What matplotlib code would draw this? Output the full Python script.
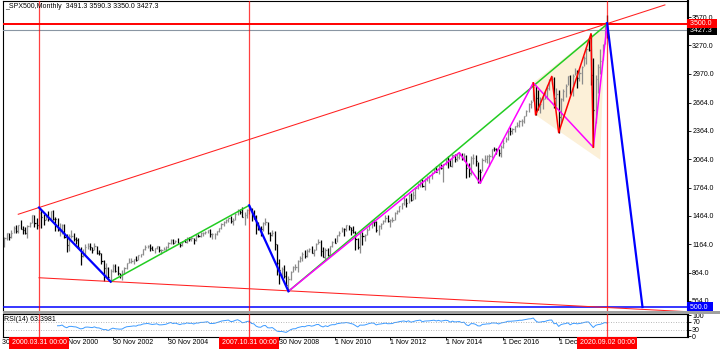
import numpy as np
import matplotlib.pyplot as plt
from matplotlib.patches import Polygon, Rectangle
from matplotlib.transforms import blended_transform_factory

plt.rcParams['font.family'] = ['Liberation Sans', 'DejaVu Sans']
FS = 5

# monthly bars, month index 0 = Jan 2000, first bar = Nov 1998
start_month = -14
closes = [
    1163.6, 1229.2,
    1279.6, 1238.3, 1286.4, 1335.2, 1301.8, 1372.7, 1328.7, 1320.4, 1282.7, 1362.9, 1388.9, 1469.3,
    1394.5, 1366.4, 1498.6, 1452.4, 1420.6, 1454.6, 1430.8, 1517.7, 1436.5, 1429.4, 1315.0, 1320.3,
    1366.0, 1239.9, 1160.3, 1249.5, 1255.8, 1224.4, 1211.2, 1133.6, 1040.9, 1059.8, 1139.5, 1148.1,
    1130.2, 1106.7, 1147.4, 1076.9, 1067.1, 989.8, 911.6, 916.1, 815.3, 885.8, 936.3, 879.8,
    855.7, 841.2, 848.2, 916.9, 963.6, 974.5, 990.3, 1008.0, 996.0, 1050.7, 1058.2, 1111.9,
    1131.1, 1144.9, 1126.2, 1107.3, 1120.7, 1140.8, 1101.7, 1104.2, 1114.6, 1130.2, 1173.8, 1211.9,
    1181.3, 1203.6, 1180.6, 1156.9, 1191.5, 1191.3, 1234.2, 1220.3, 1228.8, 1207.0, 1249.5, 1248.3,
    1280.1, 1280.7, 1294.8, 1310.6, 1270.1, 1270.2, 1276.7, 1303.8, 1335.9, 1377.9, 1400.6, 1418.3,
    1438.2, 1406.8, 1420.9, 1482.4, 1530.6, 1503.4, 1455.3, 1474.0, 1526.8, 1549.4, 1481.1, 1468.4,
    1378.6, 1330.6, 1322.7, 1385.6, 1400.4, 1280.0, 1267.4, 1282.8, 1166.4, 968.8, 896.2, 903.3,
    825.9, 735.1, 797.9, 872.8, 919.1, 919.3, 987.5, 1020.6, 1057.1, 1036.2, 1095.6, 1115.1,
    1073.9, 1104.5, 1169.4, 1186.7, 1089.4, 1030.7, 1101.6, 1049.3, 1141.2, 1183.3, 1180.6, 1257.6,
    1286.1, 1327.2, 1325.8, 1363.6, 1345.2, 1320.6, 1292.3, 1218.9, 1131.4, 1253.3, 1247.0, 1257.6,
    1312.4, 1365.7, 1408.5, 1397.9, 1310.3, 1362.2, 1379.3, 1406.6, 1440.7, 1412.2, 1416.2, 1426.2,
    1498.1, 1514.7, 1569.2, 1597.6, 1630.7, 1606.3, 1685.7, 1633.0, 1681.6, 1756.5, 1805.8, 1848.4,
    1782.6, 1859.5, 1872.3, 1884.0, 1923.6, 1960.2, 1930.7, 2003.4, 1972.3, 2018.1, 2067.6, 2058.9,
    1995.0, 2104.5, 2067.9, 2085.5, 2107.4, 2063.1, 2103.8, 1972.2, 1920.0, 2079.4, 2080.4, 2043.9,
    1940.2, 1932.2, 2059.7, 2065.3, 2097.0, 2098.9, 2173.6, 2171.0, 2168.3, 2126.2, 2198.8, 2238.8,
    2278.9, 2363.6, 2362.7, 2384.2, 2411.8, 2423.4, 2470.3, 2471.7, 2519.4, 2575.3, 2647.6, 2673.6,
    2823.8, 2713.8, 2640.9, 2648.1, 2705.3, 2718.4, 2816.3, 2901.5, 2914.0, 2711.7, 2760.2, 2506.9,
    2704.1, 2784.5, 2834.4, 2945.8, 2752.1, 2941.8, 2980.4, 2926.5, 2976.7, 3037.6, 3141.0, 3230.8,
    3225.5, 2954.2, 2584.6, 2912.4, 3044.3, 3100.3, 3271.1, 3500.3, 3427.3,
]
highs = [
    1192, 1244,
    1280, 1283, 1316, 1362, 1368, 1373, 1421, 1357, 1352, 1368, 1400, 1474,
    1478, 1445, 1553, 1528, 1481, 1474, 1517, 1519, 1530, 1454, 1438, 1389,
    1384, 1376, 1268, 1269, 1316, 1287, 1239, 1226, 1134, 1111, 1164, 1173,
    1176, 1131, 1173, 1147, 1107, 1070, 994, 965, 925, 907, 951, 954,
    935, 864, 895, 924, 965, 1015, 1016, 1011, 1040, 1054, 1063, 1112,
    1155, 1159, 1163, 1150, 1127, 1146, 1141, 1109, 1131, 1142, 1188, 1218,
    1217, 1213, 1229, 1192, 1199, 1219, 1246, 1245, 1243, 1233, 1270, 1276,
    1295, 1297, 1310, 1319, 1326, 1284, 1280, 1307, 1340, 1390, 1407, 1431,
    1441, 1462, 1438, 1499, 1535, 1541, 1556, 1503, 1539, 1576, 1552, 1524,
    1471, 1396, 1359, 1397, 1441, 1405, 1292, 1314, 1303, 1167, 1007, 919,
    944, 877, 833, 877, 930, 957, 997, 1040, 1081, 1102, 1113, 1130,
    1150, 1113, 1180, 1220, 1206, 1131, 1120, 1130, 1150, 1196, 1227, 1263,
    1303, 1345, 1332, 1367, 1371, 1345, 1357, 1307, 1230, 1293, 1292, 1269,
    1334, 1378, 1419, 1423, 1415, 1364, 1392, 1426, 1475, 1471, 1434, 1448,
    1510, 1530, 1570, 1598, 1688, 1655, 1698, 1710, 1730, 1766, 1814, 1849,
    1851, 1867, 1884, 1898, 1925, 1969, 1992, 2006, 2019, 2019, 2076, 2094,
    2072, 2119, 2117, 2126, 2135, 2130, 2133, 2113, 2021, 2094, 2116, 2104,
    2038, 1963, 2073, 2111, 2104, 2121, 2178, 2194, 2188, 2170, 2214, 2278,
    2301, 2371, 2401, 2398, 2418, 2454, 2484, 2491, 2519, 2582, 2657, 2695,
    2873, 2835, 2801, 2718, 2743, 2791, 2848, 2917, 2941, 2940, 2815, 2800,
    2708, 2813, 2861, 2950, 2954, 2965, 3028, 3014, 3022, 3050, 3154, 3248,
    3338, 3394, 3136, 2955, 3068, 3233, 3280, 3514, 3590.3,
]
lows = [
    1099, 1137,
    1205, 1212, 1226, 1282, 1288, 1281, 1326, 1268, 1268, 1233, 1343, 1387,
    1350, 1325, 1339, 1339, 1373, 1418, 1413, 1431, 1419, 1305, 1302, 1254,
    1275, 1228, 1081, 1091, 1232, 1203, 1165, 1124, 945, 1026, 1054, 1114,
    1101, 1075, 1106, 1064, 1048, 953, 775, 833, 800, 769, 873, 872,
    840, 807, 789, 847, 902, 962, 962, 960, 990, 996, 1031, 1053,
    1106, 1122, 1088, 1107, 1077, 1113, 1079, 1060, 1102, 1090, 1128, 1163,
    1163, 1180, 1176, 1137, 1146, 1188, 1183, 1201, 1201, 1169, 1202, 1246,
    1245, 1253, 1268, 1280, 1245, 1219, 1224, 1263, 1290, 1327, 1360, 1385,
    1403, 1389, 1364, 1416, 1476, 1484, 1454, 1371, 1439, 1489, 1407, 1435,
    1271, 1317, 1257, 1310, 1373, 1272, 1200, 1248, 1106, 840, 741, 815,
    805, 735, 667, 783, 866, 889, 869, 979, 992, 1020, 1029, 1086,
    1071, 1045, 1106, 1170, 1041, 1029, 1011, 1040, 1048, 1132, 1174, 1186,
    1257, 1289, 1249, 1305, 1312, 1259, 1283, 1102, 1115, 1075, 1159, 1203,
    1259, 1312, 1341, 1358, 1291, 1267, 1326, 1375, 1397, 1403, 1343, 1399,
    1426, 1486, 1502, 1537, 1581, 1560, 1604, 1627, 1633, 1646, 1746, 1768,
    1770, 1738, 1834, 1815, 1860, 1915, 1930, 1905, 1964, 1821, 2001, 1973,
    1989, 1981, 2039, 2048, 2068, 2056, 2044, 1867, 1872, 1893, 2019, 1993,
    1812, 1810, 1937, 2034, 2025, 1992, 2075, 2148, 2120, 2097, 2084, 2188,
    2245, 2272, 2322, 2328, 2353, 2405, 2407, 2417, 2447, 2520, 2566, 2605,
    2683, 2533, 2586, 2553, 2594, 2698, 2698, 2796, 2864, 2603, 2631, 2347,
    2444, 2682, 2722, 2848, 2750, 2729, 2952, 2822, 2892, 2856, 3051, 3071,
    3214, 2855, 2191, 2447, 2767, 2966, 3115, 3280, 3350.0,
]

price_ticks = [3570.0, 3270.0, 2970.0, 2664.0, 2364.0, 2064.0, 1764.0, 1464.0, 1164.0, 864.0, 564.0]
time_ticks = [-14, 10, 34, 58, 82, 106, 130, 154, 178, 203, 227]
time_labels = ['30 Nov 1998', '30 Nov 2000', '30 Nov 2002', '30 Nov 2004', '30 Nov 2006',
               '30 Nov 2008', '1 Nov 2010', '1 Nov 2012', '1 Nov 2014', '1 Dec 2016', '1 Dec 2018']

# chart objects (month index, price)
vline_months = [2, 93, 248]
vline_labels = ['2000.03.31 00:00', '2007.10.31 00:00', '2020.09.02 00:00']
upper_t, upper_p = [-7, 273], [1482, 3698]
lower_t, lower_p = [2, 283], [810, 450]
blue_legs = [([2, 33], [1553, 769]), ([93, 110], [1576, 667]), ([248, 263.3], [3505, 500])]
green_legs = [([33, 93], [769, 1576]), ([110, 247.5], [667, 3485])]
magenta_t = [110, 184, 193, 216, 242, 248]
magenta_p = [667, 2135, 1810, 2873, 2191, 3500]
red_zz_t = [216, 217, 224, 227, 241, 242]
red_zz_p = [2873, 2533, 2941, 2347, 3394, 2191]
shade_t = [216, 217, 245, 247]
shade_p = [2873, 2533, 2060, 3480]

t = np.arange(len(closes)) + start_month
c = np.array(closes)
prev = np.r_[c[0], c[:-1]]
bar_cols = np.where(c < prev, 'black', '#8c8c8c')

# RSI(14), Wilder smoothing
d = np.diff(c)
gain = np.clip(d, 0, None)
loss = np.clip(-d, 0, None)
rsi = np.full(len(c), np.nan)
ag, al = gain[:14].mean(), loss[:14].mean()
rsi[14] = 100 - 100 / (1 + ag / al)
for i in range(15, len(c)):
    ag = (ag * 13 + gain[i - 1]) / 14
    al = (al * 13 + loss[i - 1]) / 14
    rsi[i] = 100 - 100 / (1 + ag / al)

W, H = 720, 351
fig = plt.figure(figsize=(7.2, 3.51), dpi=100)


def px_box(x0, y0, x1, y1):
    return [x0 / W, 1 - y1 / H, (x1 - x0) / W, (y1 - y0) / H]


ax = fig.add_axes(px_box(3, 1, 688, 311))
ax2 = fig.add_axes(px_box(3, 314, 688, 337))
fig.add_artist(Rectangle((3 / W, 1 - 314 / H), 717 / W, 3 / H, transform=fig.transFigure,
                         fc='#a0a0a0', ec='none'))

# main panel
ax.add_patch(Polygon(list(zip(shade_t, shade_p)), closed=True, fc='#fcf0d8', ec='none', zorder=0.5))
ax.vlines(t, lows, highs, colors=bar_cols, lw=0.9, zorder=2)
ax.hlines(closes, t, t + 0.5, colors=bar_cols, lw=0.9, zorder=2)

ax.axhline(3427.3, color='#8a96a3', lw=0.8, zorder=3)
ax.axhline(3500, color='red', lw=1.4, zorder=3)
ax.axhline(500, color='#0000ff', lw=1.1, zorder=3)
for m in vline_months:
    ax.axvline(m, color='red', lw=0.9, alpha=0.75, zorder=3)
    ax2.axvline(m, color='red', lw=0.9, alpha=0.75, zorder=3)

ax.plot(upper_t, upper_p, color='#ff2020', lw=0.75, zorder=3)
ax.plot(lower_t, lower_p, color='#ff2020', lw=0.75, zorder=3)
for lt, lp in green_legs:
    ax.plot(lt, lp, color='#22cc22', lw=1.1, zorder=4)
ax.plot(magenta_t, magenta_p, color='#ff00ff', lw=1.1, zorder=4)
ax.plot(red_zz_t, red_zz_p, color='#ff0000', lw=1.1, zorder=4)
for lt, lp in blue_legs:
    ax.plot(lt, lp, color='#0000ff', lw=1.6, zorder=5)

ax.set_xlim(-13.6, 283)
ax.set_ylim(458, 3739.4)
ax.set_xticks([])
ax.yaxis.tick_right()
ax.set_yticks(price_ticks)
ax.set_yticklabels(['%.1f' % v for v in price_ticks])
ax.tick_params(axis='y', length=2, width=0.6, pad=1, labelsize=FS)
for s in ['left', 'top']:
    ax.spines[s].set_linewidth(0.8)
ax.spines['right'].set_linewidth(1.5)
ax.spines['bottom'].set_visible(False)

ax.text(0.003, 0.981, '_SPX500,Monthly  3491.3 3590.3 3350.0 3427.3', transform=ax.transAxes,
        fontsize=FS, va='center', ha='left')

tag_tr = blended_transform_factory(ax.transAxes, ax.transData)
for val, txt, fc in [(3427.3, '3427.3', 'black'), (3500, '3500.0', 'red'), (500, '500.0', '#0000ff')]:
    ax.text(1.0, val, ' ' + txt + '  ', transform=tag_tr, fontsize=FS, color='white',
            va='center', ha='left', clip_on=False, zorder=10,
            bbox=dict(boxstyle='square,pad=0.15', fc=fc, ec='none'))

# RSI panel
ax2.plot(t[24:], rsi[24:], color='#3d9bff', lw=0.7)
for lvl in [70, 30]:
    ax2.axhline(lvl, color='#a0a0a0', lw=0.6, ls=(0, (1, 2)))
ax2.set_xlim(-13.6, 283)
ax2.set_ylim(-3.9, 107.2)
ax2.yaxis.tick_right()
ax2.set_yticks([0, 30, 70, 100])
ax2.set_yticklabels(['0', '30', '70', '100'])
ax2.tick_params(axis='y', length=2, width=0.6, pad=1, labelsize=FS)
ax2.set_xticks([m for m in time_ticks if m > -13.6])
ax2.set_xticklabels([])
ax2.tick_params(axis='x', length=2, width=0.6)
for s in ['left', 'top', 'bottom']:
    ax2.spines[s].set_linewidth(0.8)
ax2.spines['right'].set_linewidth(1.5)
ax2.text(0.0015, 0.74, 'RSI(14) 63.3981', transform=ax2.transAxes, fontsize=FS, va='center')

lab_tr = blended_transform_factory(ax2.transData, ax2.transAxes)
for m, lab in zip(time_ticks, time_labels):
    ax2.text(m, -0.26, lab, transform=lab_tr, fontsize=FS, va='center', ha='left', clip_on=False)
for m, lab in zip(vline_months, vline_labels):
    ax2.text(m, -0.26, lab, transform=lab_tr, fontsize=FS, va='center', ha='center', color='white',
             clip_on=False, zorder=10, bbox=dict(boxstyle='square,pad=0.4', fc='red', ec='none'))

fig.savefig('out.png', dpi=100)
